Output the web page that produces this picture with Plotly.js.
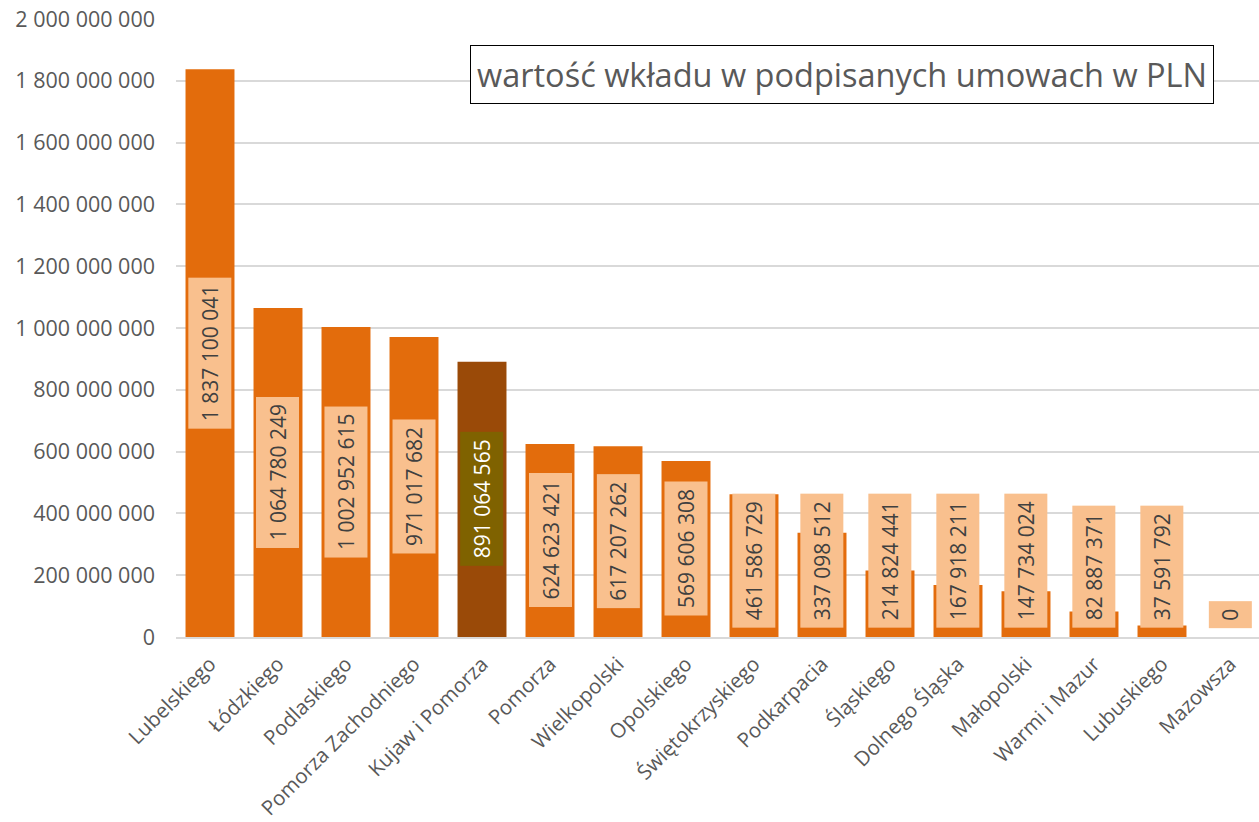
<!DOCTYPE html>
<html>
<head>
<meta charset="utf-8">
<script src="https://cdn.plot.ly/plotly-3.0.1.min.js"></script>
<style>
html,body{margin:0;padding:0;background:#fff;overflow:hidden;}
#chart{width:1264px;height:822px;}
</style>
</head>
<body>
<div id="chart"></div>
<script>
const categories = ["Lubelskiego","Łódzkiego","Podlaskiego","Pomorza Zachodniego","Kujaw i Pomorza","Pomorza","Wielkopolski","Opolskiego","Świętokrzyskiego","Podkarpacia","Śląskiego","Dolnego Śląska","Małopolski","Warmi i Mazur","Lubuskiego","Mazowsza"];
const values = [1837100041,1064780249,1002952615,971017682,891064565,624623421,617207262,569606308,461586729,337098512,214824441,167918211,147734024,82887371,37591792,0];
const highlightCategory = "Kujaw i Pomorza";
const chartTitle = "wartość wkładu w podpisanych umowach w PLN";
const yTickValues = [0,200000000,400000000,600000000,800000000,1000000000,1200000000,1400000000,1600000000,1800000000,2000000000];

function fmt(n){ return String(n).replace(/\B(?=(\d{3})+(?!\d))/g, " "); }
const yTickText = yTickValues.map(fmt);

const barColors = categories.map(c => c === highlightCategory ? "#9A4A08" : "#E36C0C");

const trace = {
  type: "bar",
  x: categories,
  y: values,
  marker: {color: barColors, line: {width: 0}},
  hoverinfo: "skip"
};

const FONT = "Open Sans, Noto Sans, sans-serif";
const yMax = 2000000000;
const annotations = categories.map((c, i) => {
  const v = values[i];
  const hi = c === highlightCategory;
  const clamp = v / 2 < 250000000;
  return {
    x: c, xref: "x",
    y: clamp ? 27000000 : v / 2, yref: "y",
    yanchor: clamp ? "bottom" : "middle",
    xanchor: "center",
    text: fmt(v),
    textangle: -90,
    showarrow: false,
    bgcolor: hi ? "#7F6200" : "#F9C08E",
    borderpad: 7,
    font: {family: FONT, size: 21, color: hi ? "#FFFFFF" : "#404040"}
  };
});

annotations.push({
  xref: "paper", yref: "paper",
  x: 0.612, y: 0.910,
  xanchor: "center", yanchor: "middle",
  text: chartTitle,
  showarrow: false,
  bgcolor: "#FFFFFF",
  bordercolor: "#000000",
  borderwidth: 1,
  borderpad: 6,
  font: {family: FONT, size: 32.5, color: "#595959"}
});

const layout = {
  width: 1264, height: 822,
  margin: {l: 176, r: 0, t: 19, b: 185},
  paper_bgcolor: "#FFFFFF",
  plot_bgcolor: "#FFFFFF",
  bargap: 0.28,
  showlegend: false,
  xaxis: {
    type: "category",
    tickangle: -45,
    tickfont: {family: FONT, size: 20.5, color: "#595959"},
    showgrid: false,
    showline: true, linecolor: "#D9D9D9", linewidth: 2,
    ticks: "", ticklabelstandoff: 5
  },
  yaxis: {
    range: [0, yMax],
    tickvals: yTickValues,
    ticktext: yTickText,
    tickfont: {family: FONT, size: 21.5, color: "#595959"},
    showgrid: true, gridcolor: "#D9D9D9", gridwidth: 2,
    zeroline: false, showline: false,
    ticks: "", ticklabelstandoff: 20
  },
  annotations: annotations
};

Plotly.newPlot("chart", [trace], layout, {displayModeBar: false, staticPlot: true});
</script>
</body>
</html>
